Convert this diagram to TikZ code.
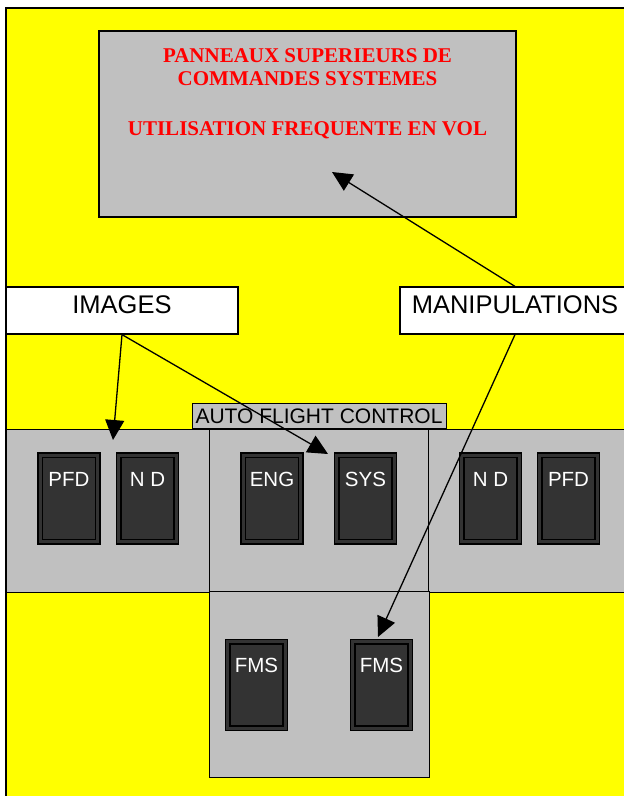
\documentclass[tikz,border=0pt]{standalone}
\usepackage{fontspec}
\setmainfont{Liberation Serif}
\setsansfont{Liberation Sans}
\usetikzlibrary{positioning,arrows.meta}
\definecolor{cockpit}{HTML}{FFFF00}
\definecolor{panelgray}{HTML}{C0C0C0}
\definecolor{scrgray}{HTML}{333333}
\definecolor{scrred}{HTML}{FF0000}

\begin{document}
\begin{tikzpicture}[x=1pt, y=-1pt,
    panel/.style={draw, line width=1pt, fill=panelgray, inner sep=0pt},
    screen/.style={draw=black, line width=1.7pt, double=scrgray, double distance=3pt,
      fill=scrgray, text=white, inner sep=0pt, minimum width=57.5pt,
      text height=30.8pt, text depth=55.7pt, font=\sffamily\fontsize{20.5}{20.5}\selectfont},
    tag/.style={draw, line width=1.2pt, fill=white, inner sep=0pt, minimum height=47pt,
      text height=26pt, text depth=21pt, font=\sffamily\fontsize{25.5}{25.5}\selectfont},
    arrow/.style={line width=1.3pt, -{Triangle[length=20pt,width=19pt]}}]
    \useasboundingbox (0,0) rectangle (624,796);
    \clip (0,0) rectangle (624,796);
    % background
    \draw[line width=1.3pt, fill=cockpit] (6,8) rectangle (640,810);
    % overhead panel
    \node[panel, line width=1.3pt, minimum width=417pt, minimum height=186pt] (upper) at (307.5,124) {};
    \node[anchor=north, align=center, inner sep=0pt, text=scrred,
      font=\bfseries\fontsize{21}{23.3}\selectfont] (uppertxt) at (307.5,48.5)
      {PANNEAUX SUPERIEURS DE\\ COMMANDES SYSTEMES\\[26.7pt] UTILISATION FREQUENTE EN VOL};
    % labels
    \node[tag, minimum width=232pt] (images) at (122,310.5) {IMAGES};
    \node[tag, minimum width=230pt] (manip) at (515,310.5) {MANIPULATIONS};
    % instrument panels
    \node[panel, minimum width=203pt, minimum height=163pt] (lpanel) at (107.5,510.5) {};
    \node[panel, minimum width=202pt, minimum height=163pt] (rpanel) at (529,510.5) {};
    \node[panel, minimum width=220pt, minimum height=186pt] (fpanel) at (319,684) {};
    \node[panel, minimum width=219pt, minimum height=162pt] (cpanel) at (318.5,510) {};
    \node[panel, minimum width=254pt, minimum height=25pt,
      font=\sffamily\fontsize{21}{21}\selectfont] (afc) at (319,416) {AUTO FLIGHT CONTROL};
    % screens
    \node[screen] (pfd1) at (69,498.5) {PFD};
    \node[screen, right of=pfd1, node distance=78.5pt] (nd1) {N D};
    \node[screen] (eng) at (272,498.5) {ENG};
    \node[screen, right of=eng, node distance=93.5pt] (sys) {SYS};
    \node[screen] (nd2) at (490.5,498.5) {N D};
    \node[screen, right of=nd2, node distance=78pt] (pfd2) {PFD};
    \node[screen] (fms1) at (256.5,685) {FMS};
    \node[screen, right of=fms1, node distance=125pt] (fms2) {FMS};
    % arrows
    \coordinate (t1) at (113,440);
    \coordinate (t2) at (328,454);
    \coordinate (t3) at (332,172);
    \coordinate (t4) at (378,637);
    \draw[arrow] (images.south) -- (t1);
    \draw[arrow] (images.south) -- (t2);
    \draw[arrow] (manip.north) -- (t3);
    \draw[arrow] (manip.south) -- (t4);
\end{tikzpicture}
\end{document}
